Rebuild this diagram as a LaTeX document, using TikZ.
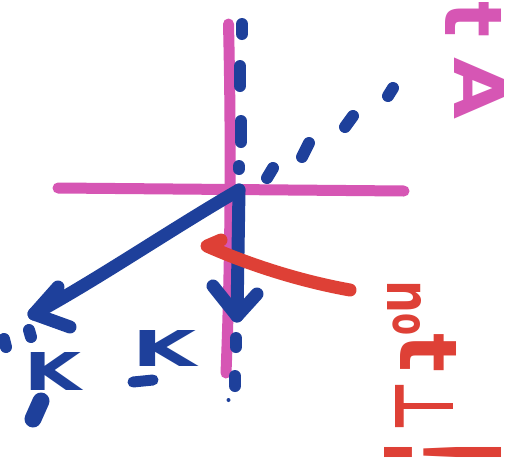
\documentclass[tikz,border=0pt]{standalone}
\usepackage{fontspec}
\setmainfont{DejaVu Sans}
\usepackage{graphicx}
\definecolor{pinkm}{RGB}{214,86,180}
\definecolor{bluem}{RGB}{30,64,155}
\definecolor{redm}{RGB}{222,64,54}
\newcommand{\rglyph}[3]{\rotatebox{-90}{\resizebox{#1}{#2}{#3}}}
\begin{document}
\begin{tikzpicture}[x=1pt,y=-1pt,line cap=round,line join=round,
  pinkline/.style={draw=pinkm,line width=11pt},
  blueline/.style={draw=bluem,line width=13pt},
  bluedash/.style={draw=bluem,line width=12pt},
  redline/.style={draw=redm,line width=13pt},
  glyph/.style={inner sep=0pt,outer sep=0pt,font=\bfseries}]
\fill[white] (0,0) rectangle (506,469);
\useasboundingbox (0,0) rectangle (506,469);
% pink axes
\coordinate (vtop) at (228.5,24);
\coordinate (vbot) at (226,373);
\coordinate (hl) at (58,188);
\coordinate (hr) at (404,191);
\draw[pinkline] (vtop) .. controls (231,130) and (231,250) .. (vbot);
\draw[pinkline] (hl) -- (hr);
% pink label
\node[glyph,text=pinkm] (pt) at (474,20) {\rglyph{36pt}{56pt}{t}};
\node[glyph,text=pinkm] (pA) at (479,89) {\rglyph{62pt}{50pt}{A}};
% blue axes
\coordinate (O) at (239,190);
\coordinate (vtip) at (237,316);
\coordinate (va1) at (213,286);
\coordinate (va2) at (257,294);
\coordinate (dtip) at (34,314);
\coordinate (da1) at (58,287);
\coordinate (da2) at (70,327);
\draw[blueline] (O) -- (vtip);
\draw[blueline] (va1) -- (vtip) -- (va2);
\draw[blueline] (O) .. controls (170,230) and (100,278) .. (dtip);
\draw[blueline] (da1) -- (dtip) -- (da2);
% blue dashes, vertical
\draw[bluedash] (242,24) -- (242,34);
\draw[bluedash] (240,66) -- (240,86);
\draw[bluedash] (241,121) -- (241,142);
\draw[bluedash] (239,166) -- (239,169);
\draw[bluedash] (236,338) -- (236,347);
\draw[bluedash] (235,376) -- (235,386);
\fill[bluem] (228.5,400) circle (2pt);
% blue dashes, diagonal
\draw[bluedash] (267,178) -- (273,168);
\draw[bluedash] (302,157) -- (309,143);
\draw[bluedash] (345,127) -- (353,116);
\draw[bluedash] (388,96) -- (393,88);
\draw[bluedash] (29,330) -- (31,337);
\draw[bluedash] (4,339) -- (6,347);
% blue labels
\node[glyph,text=bluem] (k1) at (53.5,371) {\resizebox{57pt}{38pt}{K}};
\node[glyph,text=bluem] (k2) at (165,348) {\resizebox{64pt}{36pt}{K}};
\draw[bluem,line width=17pt] (41,401) -- (33,419);
\draw[bluem,line width=11pt] (133,382) -- (153,380);
% red arrow
\coordinate (rs) at (350,290);
\coordinate (rt) at (207,246);
\coordinate (ra) at (221,240);
\draw[redline] (rs) .. controls (300,281) and (250,265) .. (rt) -- (ra);
% red label
\node[glyph,text=redm] (rn) at (405,296.5) {\rglyph{33pt}{34pt}{n}};
\node[glyph,text=redm] (ro) at (406.5,324) {\rglyph{22pt}{27pt}{o}};
\node[glyph,text=redm] (rt2) at (429,353) {\rglyph{39pt}{56pt}{t}};
\node[glyph,text=redm] (rp) at (424,406) {\rglyph{52pt}{58pt}{⊥}};
\node[glyph,text=redm] (rx) at (443.5,452.5) {\rglyph{26pt}{117pt}{!}};
\end{tikzpicture}
\end{document}
